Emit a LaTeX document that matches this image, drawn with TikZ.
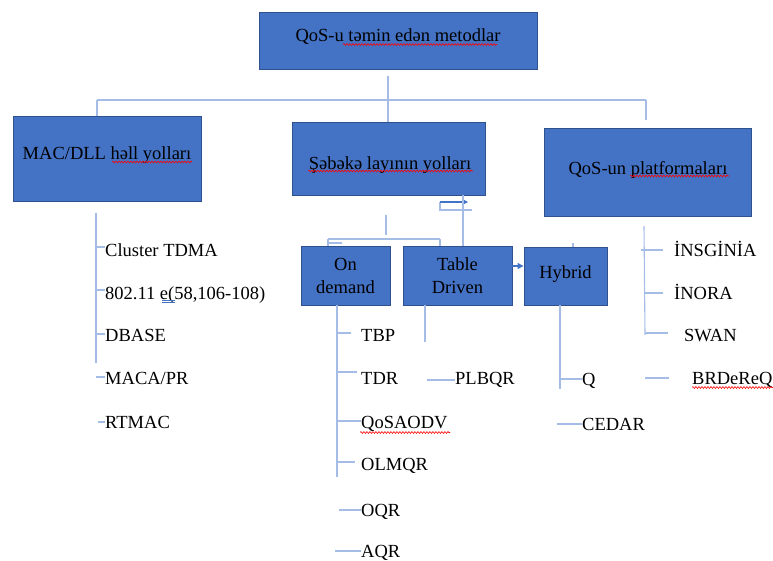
\documentclass[tikz,border=0pt]{standalone}
\usepackage{fontspec}
\setmainfont{Liberation Serif}
\usetikzlibrary{arrows.meta,decorations.pathmorphing}
\definecolor{boxfill}{HTML}{4472C4}
\definecolor{boxedge}{HTML}{2F528F}
\definecolor{treeline}{HTML}{A4BCE6}
\definecolor{arrowblue}{HTML}{4472C4}
\tikzset{
  box/.style={draw=boxedge, fill=boxfill, line width=0.9pt, inner sep=0pt},
  boxtext/.style={font=\fontsize{18.5}{21}\selectfont, inner sep=0pt, anchor=base, align=center},
  item/.style={font=\fontsize{18.5}{21}\selectfont, inner sep=0pt, anchor=base west},
  tree/.style={draw=treeline, line width=1.1pt},
  flow/.style={draw=arrowblue, line width=1.1pt, -{Triangle[length=6pt,width=6pt]}},
  squiggle/.style={draw=red, line width=0.6pt, decorate,
    decoration={snake, segment length=3pt, amplitude=0.9pt}},
}
\begin{document}
\begin{tikzpicture}[x=1pt,y=-1pt]
\useasboundingbox (0,0) rectangle (773,561);

% ---------- boxes ----------
\node[box, minimum width=278pt, minimum height=57pt] (top) at (398,40.5) {};
\node[box, minimum width=188pt, minimum height=85pt] (mac) at (107,158.5) {};
\node[box, minimum width=193pt, minimum height=73pt] (net) at (388.5,158.5) {};
\node[box, minimum width=207pt, minimum height=88pt] (plat) at (647.5,172) {};
\node[box, minimum width=89pt, minimum height=59pt] (ond) at (345.5,275.5) {};
\node[box, minimum width=109pt, minimum height=59pt] (tab) at (457.5,275.5) {};
\node[box, minimum width=83pt, minimum height=58pt] (hyb) at (565.5,276) {};

% ---------- box captions ----------
\node[boxtext] (topt) at (398,41.5) {QoS-u təmin edən metodlar};
\node[boxtext] (mact) at (107,159.5) {MAC/DLL həll yolları};
\node[boxtext] (nett) at (390,169.5) {Şəbəkə layının yolları};
\node[boxtext] (platt) at (648,174.5) {QoS-un platformaları};
\node[boxtext] (ondt1) at (345.5,270.5) {On};
\node[boxtext] (ondt2) at (345.5,293.5) {demand};
\node[boxtext] (tabt1) at (457.5,270.5) {Table};
\node[boxtext] (tabt2) at (457.5,293.5) {Driven};
\node[boxtext] (hybt) at (565.5,278.5) {Hybrid};

% spell-check underlines
\draw[squiggle] (343,44.5) -- (497,44.5);
\draw[squiggle] (112,162) -- (192,162);
\draw[squiggle] (308,171) -- (473,171);
\draw[squiggle] (630,176) -- (729,176);

% ---------- top level tree ----------
\coordinate (hubtop) at (388,76);
\coordinate (hub) at (388,100);
\coordinate (hl) at (97,100);
\coordinate (hr) at (646,100);
\coordinate (platin) at (646,120);
\draw[tree] (hubtop) -- (hub |- net.north);
\draw[tree] (hl) -- (hr);
\draw[tree] (hl) -- (hl |- mac.north);
\draw[tree] (hr) -- (platin);

% ---------- network layer subtree ----------
\coordinate (nstem) at (386,215);
\coordinate (nstemb) at (386,235);
\coordinate (nbl) at (328,239);
\coordinate (nbr) at (440,239);
\draw[tree] (nstem) -- (nstemb);
\draw[tree] (nbl) -- (nbr);
\draw[tree] (nbl) -- (nbl |- ond.north);
\draw[tree] (nbr) -- (nbr |- tab.north);
\draw[tree] (328,243) -- (342,243);

% feedback loop between the network box and Table Driven
\coordinate (lp1) at (472,210);
\coordinate (lp2) at (440,210);
\coordinate (lp3) at (440,202);
\coordinate (lp4) at (468,202);
\coordinate (tabup) at (463,202);
\draw[tree] (lp1) -- (lp2) -- (lp3);
\draw[flow] (lp3) -- (lp4);
\draw[tree] (tab.north -| tabup) -- (net.south -| tabup);

% Table Driven -> Hybrid
\draw[flow] (tab.east |- 0,266) -- (hyb.west |- 0,266);
\draw[tree] (573,243) -- (hyb.north -| 573,0);

% ---------- MAC/DLL items ----------
\coordinate (macv1) at (96,213);
\coordinate (macv2) at (96,363);
\draw[tree] (macv1) -- (macv2);
\node[item] (m1) at (105,256.5) {Cluster TDMA};
\node[item] (m2) at (105,299.5) {802.11 e(58,106-108)};
\node[item] (m3) at (105,341.5) {DBASE};
\node[item] (m4) at (105,384.5) {MACA/PR};
\node[item] (m5) at (105,428.5) {RTMAC};
\draw[tree] (96,247) -- (m1.west |- 0,247);
\draw[tree] (96,290) -- (m2.west |- 0,290);
\draw[tree] (96,334) -- (m3.west |- 0,334);
\draw[tree] (96,377) -- (m4.west |- 0,377);
\draw[tree] (98,422) -- (m5.west |- 0,422);
\draw[draw=arrowblue, line width=0.8pt] (162,300.5) -- (175,300.5);
\draw[draw=arrowblue, line width=0.8pt] (162,302) -- (175,302);

% ---------- On demand items ----------
\draw[tree] (ond.south -| 337,0) -- (337,477);
\node[item] (o1) at (361,341.5) {TBP};
\node[item] (o2) at (361,384.5) {TDR};
\node[item] (o3) at (361,428.5) {QoSAODV};
\node[item] (o4) at (361,470.5) {OLMQR};
\node[item] (o5) at (361,516.5) {OQR};
\node[item] (o6) at (361,557.5) {AQR};
\draw[tree] (337,333) -- (351,333);
\draw[tree] (337,372) -- (357,372);
\draw[tree] (337,421) -- (o3.west |- 0,421);
\draw[tree] (337,462) -- (355,462);
\draw[tree] (339,510) -- (o5.west |- 0,510);
\draw[tree] (335,551) -- (o6.west |- 0,551);
\draw[squiggle] (360,432.5) -- (450,432.5);

% ---------- Table Driven items ----------
\draw[tree] (tab.south -| 425,0) -- (425,342);
\node[item] (t1) at (455,384.5) {PLBQR};
\draw[tree] (427,380) -- (t1.west |- 0,380);

% ---------- Hybrid items ----------
\draw[tree] (hyb.south -| 560,0) -- (560,389);
\node[item] (h1) at (582,385.5) {Q};
\node[item] (h2) at (582,430.5) {CEDAR};
\draw[tree] (560,379) -- (h1.west |- 0,379);
\draw[tree] (557,424) -- (h2.west |- 0,424);

% ---------- platform items ----------
\draw[tree] (644,226) -- (645,335);
\node[item] (p1) at (674,256.5) {İNSGİNİA};
\node[item] (p2) at (674,299.5) {İNORA};
\node[item] (p3) at (684,341.5) {SWAN};
\node[item] (p4) at (692,384.5) {BRDeReQ};
\draw[tree] (641,250) -- (663,250);
\draw[tree] (645,293) -- (663,293);
\draw[tree] (645,333) -- (668,333);
\draw[tree] (645,378) -- (669,378);
\draw[squiggle] (692,387.5) -- (773,387.5);
\end{tikzpicture}
\end{document}
